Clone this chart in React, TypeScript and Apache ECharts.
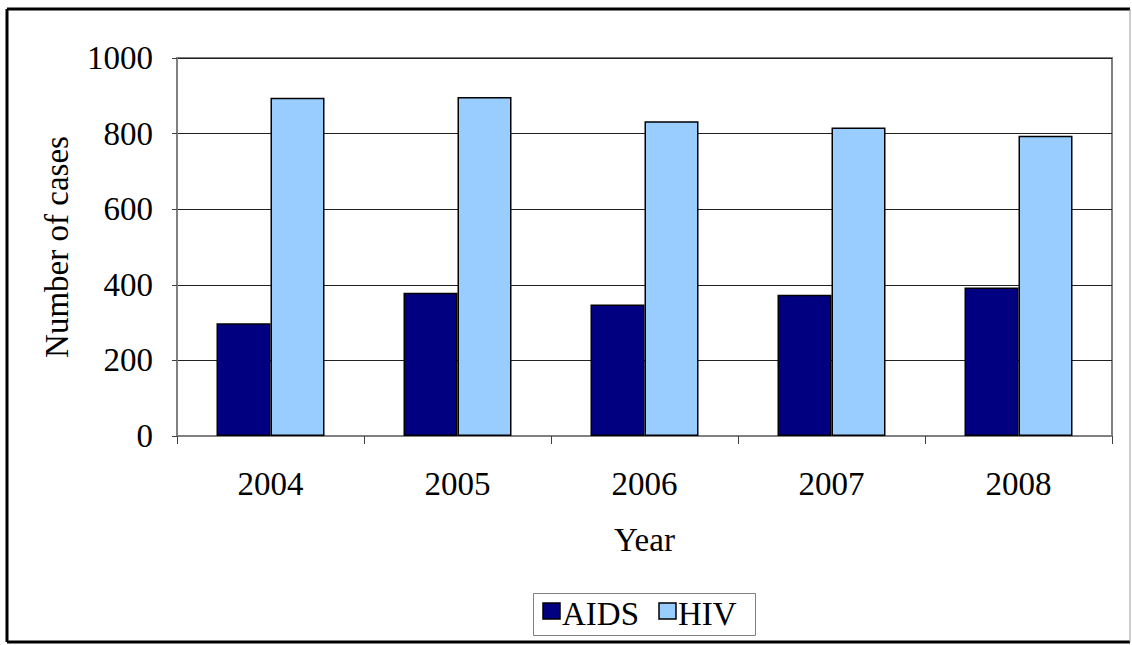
import React, { useEffect, useRef } from "react";
import * as echarts from "echarts";

const years = ["2004", "2005", "2006", "2007", "2008"];
const aids = [298, 379, 348, 374, 393];
const hiv = [895, 897, 833, 816, 794];
const yTicks = { min: 0, max: 1000, interval: 200 };
const seriesNames = ["AIDS", "HIV"];
const seriesColors = ["#000080", "#99CCFF"];

const FONT = "'Liberation Serif', 'Times New Roman', serif";
const FS = 33;

export default function App() {
  const ref = useRef<HTMLDivElement>(null);
  useEffect(() => {
    const chart = echarts.init(ref.current!, null, { renderer: "svg" });
    const legendX = [543, 659];
    chart.setOption({
      animation: false,
      backgroundColor: "#fff",
      textStyle: { fontFamily: FONT, color: "#000" },
      grid: {
        left: 177,
        top: 58,
        right: 20,
        bottom: 209,
        show: true,
        borderColor: "#808080",
        borderWidth: 2,
        backgroundColor: "transparent",
      },
      xAxis: {
        type: "category",
        data: years,
        name: "Year",
        nameLocation: "middle",
        nameGap: 87,
        nameTextStyle: { fontFamily: FONT, fontSize: FS, color: "#000" },
        axisLine: { lineStyle: { color: "#808080", width: 2 } },
        axisTick: { show: true, length: 8, lineStyle: { color: "#404040", width: 1 } },
        axisLabel: { fontFamily: FONT, fontSize: FS, color: "#000", margin: 31 },
      },
      yAxis: {
        type: "value",
        min: yTicks.min,
        max: yTicks.max,
        interval: yTicks.interval,
        name: "Number of cases",
        nameLocation: "middle",
        nameGap: 104,
        nameTextStyle: { fontFamily: FONT, fontSize: FS, color: "#000" },
        axisLine: { show: true, lineStyle: { color: "#808080", width: 2 } },
        axisTick: { show: true, length: 5, lineStyle: { color: "#404040", width: 1 } },
        axisLabel: { fontFamily: FONT, fontSize: FS, color: "#000", margin: 24, formatter: (v: number) => String(v) },
        splitLine: { show: true, lineStyle: { color: "#222", width: 1 } },
      },
      series: [
        {
          name: seriesNames[0],
          type: "bar",
          data: aids,
          barWidth: 54,
          barGap: "0%",
          itemStyle: { color: seriesColors[0], borderColor: "#000", borderWidth: 1.5 },
        },
        {
          name: seriesNames[1],
          type: "bar",
          data: hiv,
          barWidth: 54,
          barGap: "0%",
          itemStyle: { color: seriesColors[1], borderColor: "#000", borderWidth: 1.5 },
        },
      ],
      graphic: [
        { type: "line", shape: { x1: 7, y1: 9, x2: 1130, y2: 9 }, style: { stroke: "#000", lineWidth: 3 } },
        { type: "line", shape: { x1: 7, y1: 9, x2: 7, y2: 642 }, style: { stroke: "#000", lineWidth: 3 } },
        { type: "line", shape: { x1: 7, y1: 642, x2: 1130, y2: 642 }, style: { stroke: "#000", lineWidth: 3 } },
        { type: "line", shape: { x1: 1130, y1: 9, x2: 1130, y2: 642 }, style: { stroke: "#999", lineWidth: 1 } },
        {
          type: "rect",
          shape: { x: 533.5, y: 593.5, width: 222, height: 42 },
          style: { fill: "#fff", stroke: "#808080", lineWidth: 1 },
        },
        ...seriesNames.flatMap((name, i) => [
          {
            type: "rect",
            shape: { x: legendX[i], y: 603, width: 17, height: 16 },
            style: { fill: seriesColors[i], stroke: "#000", lineWidth: 1.5 },
          },
          {
            type: "text",
            x: legendX[i] + 19,
            y: 614,
            style: {
              text: name,
              fontFamily: FONT,
              fontSize: FS,
              fill: "#000",
              verticalAlign: "middle",
              align: "left",
            },
          },
        ]),
      ],
    });
    return () => chart.dispose();
  }, []);
  return (
    <div
      ref={ref}
      style={{ position: "absolute", left: 0, top: 0, width: 1132, height: 645 }}
    />
  );
}
